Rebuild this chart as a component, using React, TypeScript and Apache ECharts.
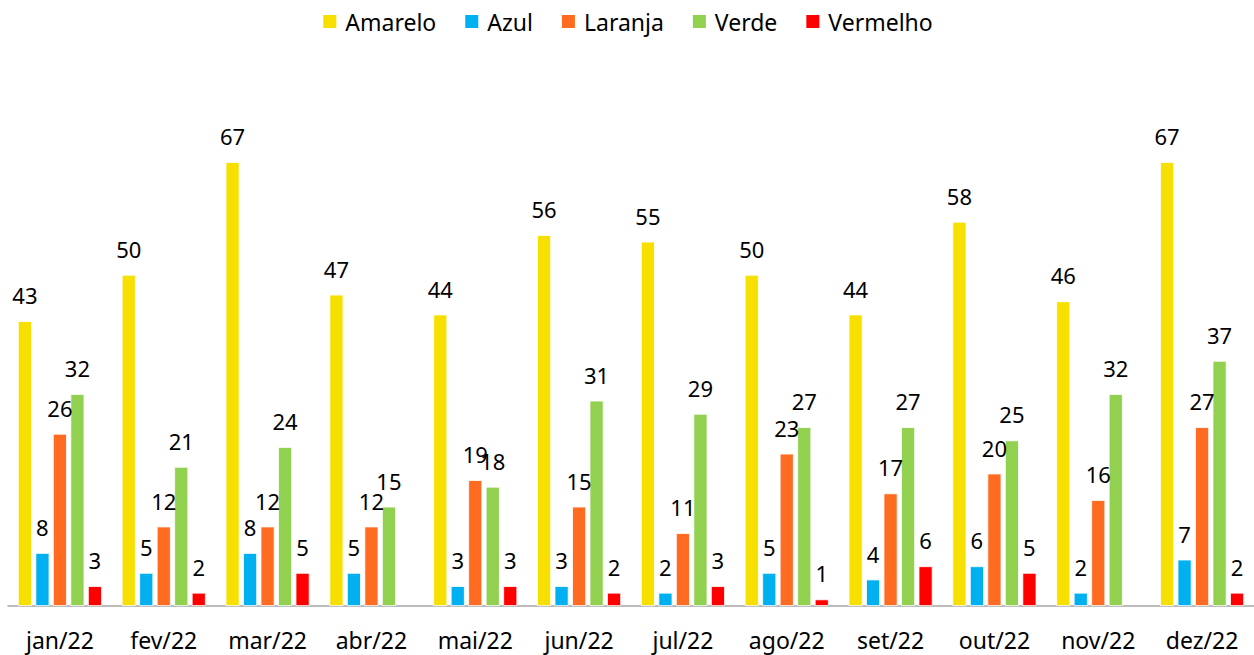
import React, { useEffect, useRef } from "react";
import * as echarts from "echarts";

const categories = ["jan/22", "fev/22", "mar/22", "abr/22", "mai/22", "jun/22", "jul/22", "ago/22", "set/22", "out/22", "nov/22", "dez/22"];
const amarelo = [43, 50, 67, 47, 44, 56, 55, 50, 44, 58, 46, 67];
const azul = [8, 5, 8, 5, 3, 3, 2, 5, 4, 6, 2, 7];
const laranja = [26, 12, 12, 12, 19, 15, 11, 23, 17, 20, 16, 27];
const verde = [32, 21, 24, 15, 18, 31, 29, 27, 27, 25, 32, 37];
const vermelho: (number | null)[] = [3, 2, 5, null, 3, 2, 3, 1, 6, 5, null, 2];

const seriesDefs = [
  { name: "Amarelo", data: amarelo, color: "#F7E000" },
  { name: "Azul", data: azul, color: "#00B0F0" },
  { name: "Laranja", data: laranja, color: "#FF6B21" },
  { name: "Verde", data: verde, color: "#92D050" },
  { name: "Vermelho", data: vermelho, color: "#FF0000" },
];

const FONT = "'Noto Sans', sans-serif";

export default function App() {
  const ref = useRef<HTMLDivElement>(null);
  useEffect(() => {
    if (!ref.current) return;
    const chart = echarts.init(ref.current, undefined, { renderer: "svg" });
    chart.setOption({
      animation: false,
      textStyle: { fontFamily: FONT },
      legend: {
        top: 5,
        left: "center",
        itemWidth: 15,
        itemHeight: 15,
        itemGap: 27,
        icon: "rect",
        textStyle: { fontSize: 23, color: "#000", fontFamily: FONT, padding: [0, 0, 0, 3] },
        data: seriesDefs.map((s) => s.name),
      },
      grid: { left: 8, right: 0, top: 76, bottom: 49, containLabel: false },
      xAxis: {
        type: "category",
        data: categories,
        axisLine: { show: true, lineStyle: { color: "#A6A6A6", width: 1.5 } },
        axisTick: { show: false },
        axisLabel: { fontSize: 23, color: "#000", margin: 22, fontFamily: FONT },
      },
      yAxis: {
        type: "value",
        min: 0,
        max: 80,
        show: false,
        splitLine: { show: false },
      },
      series: seriesDefs.map((s) => ({
        name: s.name,
        type: "bar",
        data: s.data,
        barWidth: 14,
        barGap: "25%",
        barCategoryGap: "20%",
        itemStyle: { color: s.color, borderColor: "#fff", borderWidth: 0.8 },
        label: {
          show: true,
          position: "top",
          distance: 15,
          fontSize: 22,
          color: "#000",
          fontFamily: FONT,
        },
      })),
    });
    return () => chart.dispose();
  }, []);
  return <div ref={ref} style={{ width: 1254, height: 655, position: "absolute", left: 0, top: 0 }} />;
}
